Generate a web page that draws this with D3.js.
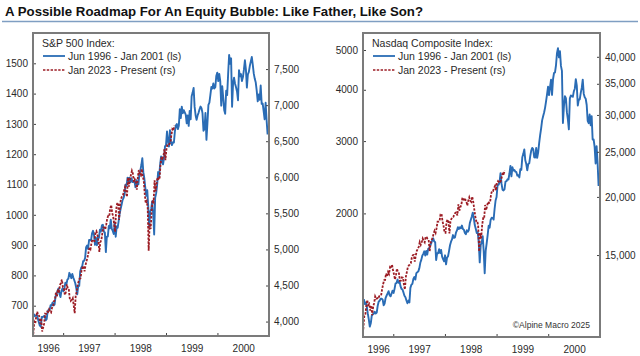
<!DOCTYPE html>
<html><head><meta charset="utf-8">
<script src="https://cdn.jsdelivr.net/npm/d3@7"></script>
<style>body{margin:0;background:#fff;} svg{display:block;font-family:"Liberation Sans",Arial,sans-serif;}</style>
</head><body><svg id="c" width="640" height="356"></svg>
<script>
// ---------------- DATA ----------------
const chartTitle = "A Possible Roadmap For An Equity Bubble: Like Father, Like Son?";
const copyright = "©Alpine Macro 2025";
const legendOld = "Jun 1996 - Jan 2001 (ls)";
const legendNew = "Jan 2023 - Present (rs)";
const panelTitles = ["S&P 500 Index:", "Nasdaq Composite Index:"];

// weekly closes, first week starting these dates
const oldStart = "1996-06-07";
const newStart = "2023-01-03";

// S&P 500, Jun 1996 - Dec 2000 (left scale)
const spxOld = [
 673.3,665.2,666.8,670.6, 657.4,646.2,635.0,630.9, 662.5,662.1,665.2,667.0,651.9, 655.7,680.5,687.0,686.2,
 701.5,700.7,710.8,700.9, 703.8,730.8,737.6,748.7,757.0, 739.6,728.6,748.9,756.8,
 748.0,759.5,776.2,770.5,786.2, 789.6,808.5,801.8,790.8, 805.0,793.2,784.1,773.9, 757.9,737.7,766.3,765.4,
 813.0,824.8,829.8,847.0,848.3, 858.0,893.3,898.7,887.3, 916.9,916.7,915.3,938.8, 947.1,933.5,900.8,923.5,899.5,
 929.1,923.9,950.5,945.2, 965.0,967.0,944.2,941.6,877.0, 927.5,928.4,963.1,955.4, 983.8,953.4,946.8,936.5,
 975.0,927.7,961.5,957.6,980.3, 1003.5,1020.1,1034.2,1049.3, 1055.7,1068.6,1099.2,1095.4, 1122.7,1110.7,1122.7,1107.9,
 1121.0,1108.1,1108.7,1110.5,1090.8, 1113.9,1098.8,1100.7,1133.2, 1146.4,1164.3,1186.8,1140.8,1120.7,
 1089.5,1062.8,1081.2,1027.1, 960.0,1009.1,1020.1,1044.8, 1002.6,935.0,1056.4,1070.7,1098.7,
 1141.0,1125.7,1163.6,1192.3, 1176.7,1166.5,1188.0,1226.3,1229.2,
 1275.1,1243.3,1225.2,1279.6, 1239.4,1230.1,1239.2,1238.3, 1275.5,1294.6,1299.3,1282.8, 1293.7,1348.4,1319.0,1356.9,1335.2,
 1345.0,1337.8,1330.3,1302.0, 1327.8,1293.6,1342.8,1315.3, 1391.2,1403.3,1418.8,1356.9,1328.7, 1313.7,1327.7,1336.6,1348.3,
 1357.2,1351.7,1335.4,1277.4, 1282.8,1336.0,1247.4,1301.7,1362.9, 1370.2,1396.1,1422.0,1416.6, 1433.3,1417.0,1421.0,1458.3,1469.3,
 1441.5,1465.2,1441.4,1360.2, 1424.4,1387.1,1346.1,1333.4, 1409.2,1395.1,1464.5,1527.5,1498.6, 1516.4,1356.6,1434.5,1452.4,
 1432.6,1420.9,1406.9,1378.0, 1477.3,1456.9,1464.5,1441.5,1454.6, 1478.9,1509.9,1480.2,1419.9, 1462.9,1471.8,1491.7,1506.5,
 1520.8,1494.5,1465.8,1448.7,1436.5, 1408.9,1374.2,1396.9,1379.6, 1426.7,1366.0,1367.7,1341.8, 1315.2,1369.9,1312.2,1265.0
];
// S&P 500, Jan 2023 - Oct 2025 (right scale)
const spxNew = [
 3825,3999,3972,4071, 4136,4090,4079,3970, 4046,3862,3917,3971,4109, 4105,4138,4133,4169, 4136,4124,4192,4205,
 4282,4299,4410,4348,4450, 4399,4505,4536,4582, 4478,4464,4370,4406, 4516,4457,4450,4320,4288, 4308,4327,4224,4117,
 4358,4415,4514,4559, 4595,4604,4719,4755,4770,
 4697,4784,4840,4891, 4959,5027,5006,5089, 5137,5124,5117,5234,5254, 5204,5123,4967,5100, 5128,5223,5303,5305,5278,
 5347,5432,5465,5460, 5567,5615,5505,5459, 5346,5244,5554,5635,5648, 5408,5626,5703,5738, 5751,5815,5864,5808,
 5729,5996,5871,5969,6032, 6090,6051,5931,5971,
 5942,5827,5997,6101,6041, 6026,6115,6013,5955, 5770,5639,5668,5581, 4983,5363,5283,5525, 5687,5660,5958,5803,5912,
 6000,5977,5968,6173, 6279,6260,6297,6389, 6238,6389,6450,6467,6460, 6482,6584,6664,6644, 6716
];
// Nasdaq Composite, Jun 1996 - Dec 2000 (left scale)
const ndxOld = [
 1237,1203,1213,1185, 1140,1104,1060,1080, 1127,1135,1139,1152,1141, 1147,1192,1220,1226, 1239,1239,1233,1195,
 1207,1246,1262,1277,1293, 1265,1256,1276,1297,
 1280,1310,1351,1353,1380, 1355,1367,1330,1310, 1305,1284,1260,1250, 1227,1208,1227,1214, 1317,1340,1347,1385,1400,
 1380,1431,1438,1445, 1470,1516,1541,1577, 1594,1617,1578,1620,1587, 1642,1644,1670,1690, 1720,1739,1710,1702,1540,
 1600,1600,1637,1601, 1630,1570,1548,1529,
 1581,1503,1560,1573,1619, 1673,1707,1728,1771, 1744,1749,1795,1818, 1852,1833,1850,1840, 1868,1832,1825,1793,1779,
 1820,1805,1823,1894, 1930,1965,2009,1947,1873, 1834,1792,1799,1700, 1520,1676,1700,1760, 1620,1430,1620,1690,1771,
 1866,1846,1928,1951, 1950,1932,2050,2150,2193,
 2344,2348,2381,2506, 2363,2285,2275,2288, 2391,2396,2421,2419, 2501,2610,2462,2590,2543, 2552,2527,2520,2471,
 2478,2447,2563,2553, 2741,2793,2864,2694,2638, 2547,2637,2648,2758, 2843,2887,2869,2740, 2736,2887,2731,2817,2967,
 3102,3221,3369,3448, 3521,3620,3753,3904,4069,
 3882,4064,4235,3887, 4244,4395,4411,4590, 4914,5048,4798,4964,4573, 4446,3321,3643,3860, 3817,3529,3390,3205,
 3813,3875,3860,3845,3966, 4024,4246,4095,3663, 3787,3789,3930,4043, 4234,3914,3835,3804,3673, 3361,3316,3483,3278,
 3451,3028,3028,2904, 2645,2917,2653,2333
];
// Nasdaq Composite, Jan 2023 - Oct 2025 (right scale)
const ndxNew = [
 10386,11079,11140,11622, 12007,11718,11787,11395, 11689,11138,11631,11824,12222, 12088,12123,12072,12227,
 12235,12285,12658,12976, 13241,13259,13690,13492,13788, 13661,14114,14033,14317, 13909,13645,13291,13590,
 14031,13762,13708,13212,13219, 13431,13407,12984,12643, 13479,13798,14125,14251, 14305,14404,14814,14993,15011,
 14524,14973,15311,15455, 15629,15991,15776,15997, 16275,16085,15973,16429,16379, 16249,16175,15282,15928,
 16156,16341,16686,16921,16735, 17133,17689,17689,17733, 18353,18398,17727,17358, 16776,16745,17632,17878,17714,
 16691,17684,17948,18120, 18138,18343,18490,18519, 18240,19287,18680,19004,19218, 19860,19927,19573,19722,
 19622,19162,19630,19955,19627, 19524,20027,19525,18847, 18196,17754,17784,17323, 15268,16724,16286,17383,
 17978,17929,19211,18737,19114, 19530,19407,19447,20273, 20601,20586,20896,21108, 20650,21450,21623,21496,21456,
 21700,22141,22631,22484, 22780
];

const spxLeftTicks = [700,800,900,1000,1100,1200,1300,1400,1500];
const spxRightTicks = [4000,4500,5000,5500,6000,6500,7000,7500];
const ndxLeftTicks = [2000,3000,4000,5000];
const ndxRightTicks = [15000,20000,25000,30000,35000,40000];
const yearLabels = [1996,1997,1998,1999,2000];

// ---------------- DRAW ----------------
const svg = d3.select("#c");
const BLUE = "#2a6cb5", RED = "#9c1c24", FRAME = "#7b7b7b", TXT = "#2a2a2a";

svg.append("text").attr("x",5).attr("y",15.5).attr("font-size",13.5).attr("font-weight","bold")
  .attr("fill","#111").attr("textLength",418).attr("lengthAdjust","spacingAndGlyphs").text(chartTitle);
svg.append("line").attr("x1",2).attr("x2",638).attr("y1",21.5).attr("y2",21.5)
  .attr("stroke","#7f9ec2").attr("stroke-width",1.6);

const parse = d3.timeParse("%Y-%m-%d");
const xStart = new Date(1996,5,1), xEnd = new Date(2001,0,1);
const shiftMs = new Date(2023,0,1) - xStart;
const oldDates = spxOld.map((_,i)=>d3.timeWeek.offset(parse(oldStart), i));
const newDates = spxNew.map((_,i)=>new Date(+d3.timeDay.offset(parse(newStart), i*7) - shiftMs));

const panels = [
  {x0:33, x1:269, y0:33, y1:336, title:panelTitles[0], old:spxOld, nw:spxNew,
   yL:d3.scaleLinear().domain([600,1600]), yR:d3.scaleLinear().domain([3800,8000]),
   lt:spxLeftTicks, rt:spxRightTicks, lf:d3.format("d"), rf:d3.format(","), copy:false},
  {x0:363, x1:600, y0:33, y1:337, title:panelTitles[1], old:ndxOld, nw:ndxNew,
   yL:d3.scaleLog().domain([1000,5500]), yR:d3.scaleLog().domain([10000,45000]),
   lt:ndxLeftTicks, rt:ndxRightTicks, lf:d3.format("d"), rf:d3.format(","), copy:true}
];

panels.forEach((p,pi)=>{
  const x = d3.scaleTime().domain([xStart,xEnd]).range([p.x0,p.x1]);
  p.yL.range([p.y1,p.y0]); p.yR.range([p.y1,p.y0]);
  const g = svg.append("g");
  const cid = "clip"+pi;
  g.append("clipPath").attr("id",cid).append("rect")
    .attr("x",p.x0).attr("y",p.y0).attr("width",p.x1-p.x0).attr("height",p.y1-p.y0);

  // lines
  const lineOld = d3.line().x((d,i)=>x(oldDates[i])).y(d=>p.yL(d));
  const lineNew = d3.line().x((d,i)=>x(newDates[i])).y(d=>p.yR(d));
  g.append("path").datum(p.old).attr("clip-path",`url(#${cid})`).attr("d",lineOld)
    .attr("fill","none").attr("stroke",BLUE).attr("stroke-width",1.9).attr("stroke-linejoin","round");
  g.append("path").datum(p.nw).attr("clip-path",`url(#${cid})`).attr("d",lineNew)
    .attr("fill","none").attr("stroke",RED).attr("stroke-width",1.8).attr("stroke-dasharray","2.4,1.4");

  // axes
  const styleAxis = sel => {
    sel.select(".domain").remove();
    sel.selectAll("line").attr("stroke","#444").attr("stroke-width",1);
    sel.selectAll("text").attr("fill",TXT).attr("font-size",10).attr("font-family",'"Liberation Sans",Arial,sans-serif');
  };
  g.append("g").attr("transform",`translate(${p.x0},0)`)
    .call(d3.axisLeft(p.yL).tickValues(p.lt).tickFormat(p.lf).tickSizeInner(-3).tickSizeOuter(0).tickPadding(5))
    .call(styleAxis);
  g.append("g").attr("transform",`translate(${p.x1},0)`)
    .call(d3.axisRight(p.yR).tickValues(p.rt).tickFormat(p.rf).tickSizeInner(-3).tickSizeOuter(0).tickPadding(5))
    .call(styleAxis);
  g.append("g").attr("transform",`translate(0,${p.y1})`)
    .call(d3.axisBottom(x).tickValues(yearLabels.slice(1).map(y=>new Date(y,0,1))).tickFormat("").tickSizeInner(-3).tickSizeOuter(0))
    .call(styleAxis);
  // year labels centred on visible part of each year
  const labelDates = yearLabels.map(y=>{
    const a = d3.max([new Date(y,0,1), xStart]), b = d3.min([new Date(y+1,0,1), xEnd]);
    return new Date((+a + +b)/2);
  });
  g.append("g").attr("transform",`translate(0,${p.y1+9})`)
    .call(d3.axisBottom(x).tickValues(labelDates).tickFormat((d,i)=>yearLabels[i]).tickSize(0).tickPadding(0))
    .call(styleAxis);

  // frame
  g.append("rect").attr("x",p.x0).attr("y",p.y0).attr("width",p.x1-p.x0).attr("height",p.y1-p.y0)
    .attr("fill","none").attr("stroke",FRAME).attr("stroke-width",2);

  // legend
  const lx = p.x0 + 10;
  g.append("text").attr("x",lx-1).attr("y",p.y0+13.5).attr("font-size",10.5).attr("fill",TXT).text(p.title);
  g.append("line").attr("x1",lx).attr("x2",lx+22).attr("y1",p.y0+23).attr("y2",p.y0+23)
    .attr("stroke",BLUE).attr("stroke-width",1.8);
  g.append("text").attr("x",lx+25).attr("y",p.y0+26.5).attr("font-size",10.5).attr("fill",TXT).text(legendOld);
  g.append("line").attr("x1",lx).attr("x2",lx+22).attr("y1",p.y0+37).attr("y2",p.y0+37)
    .attr("stroke",RED).attr("stroke-width",1.6).attr("stroke-dasharray","2.4,1.4");
  g.append("text").attr("x",lx+25).attr("y",p.y0+40.5).attr("font-size",10.5).attr("fill",TXT).text(legendNew);

  if (p.copy) {
    g.append("text").attr("x",p.x1-10).attr("y",p.y1-9).attr("text-anchor","end")
      .attr("font-size",8.5).attr("fill","#333").text(copyright);
  }
});
</script></body></html>
